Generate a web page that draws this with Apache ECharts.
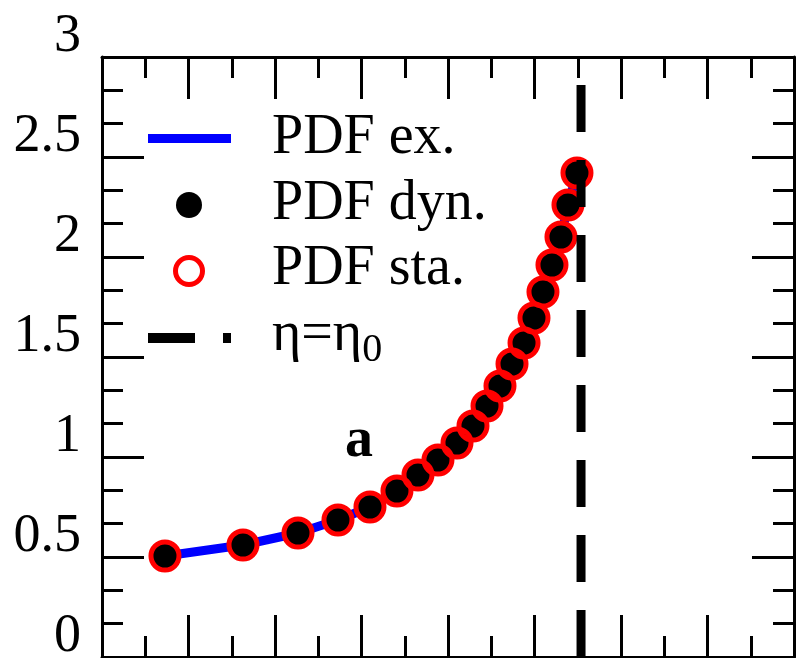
<!DOCTYPE html>
<html>
<head>
<meta charset="utf-8">
<script src="https://cdn.jsdelivr.net/npm/echarts@6/dist/echarts.min.js"></script>
<style>
html,body{margin:0;padding:0;background:#fff;}
#chart{width:797px;height:658px;}
</style>
</head>
<body>
<div id="chart"></div>
<script>
// ---- data ----
const etaValues   = [0.728, 1.630, 2.266, 2.728, 3.098, 3.410, 3.653, 3.884, 4.104, 4.289, 4.451, 4.601, 4.740, 4.879, 4.994, 5.098, 5.202, 5.306, 5.387, 5.491];
const pdfExact    = [0.505, 0.560, 0.620, 0.685, 0.750, 0.830, 0.910, 0.985, 1.070, 1.155, 1.255, 1.355, 1.465, 1.570, 1.695, 1.825, 1.960, 2.100, 2.260, 2.420];
const pdfDynamic  = [0.505, 0.560, 0.620, 0.685, 0.750, 0.830, 0.910, 0.985, 1.070, 1.155, 1.255, 1.355, 1.465, 1.570, 1.695, 1.825, 1.960, 2.100, 2.260, 2.420];
const pdfStatic   = [0.505, 0.560, 0.620, 0.685, 0.750, 0.830, 0.910, 0.985, 1.070, 1.155, 1.255, 1.355, 1.465, 1.570, 1.695, 1.825, 1.960, 2.100, 2.260, 2.420];
const eta0 = 5.538;
const yTickLabels = ['0', '0.5', '1', '1.5', '2', '2.5', '3'];
const seriesNames = ['PDF ex.', 'PDF dyn.', 'PDF sta.', 'η=η0'];

const pairs = (xs, ys) => xs.map((x, i) => [x, ys[i]]);
const serif = "'Liberation Serif', 'Times New Roman', serif";

const chart = echarts.init(document.getElementById('chart'), null, {renderer: 'canvas'});

const axisLineStyle = {show: true, onZero: false, lineStyle: {color: '#000', width: 3}};
const tickStyle = {lineStyle: {color: '#000', width: 3}};

const option = {
  backgroundColor: '#fff',
  animation: false,
  grid: {left: 102, right: 3, top: 57, bottom: 1, containLabel: false, outerBoundsMode: 'none'},
  xAxis: [
    {type: 'value', position: 'bottom', min: 0, max: 8, interval: 1,
     axisLine: axisLineStyle, splitLine: {show: false},
     axisTick: Object.assign({show: true, inside: true, length: 42}, tickStyle),
     minorTick: Object.assign({show: true, splitNumber: 2, length: 21}, tickStyle),
     axisLabel: {show: false}},
    {type: 'value', position: 'top', min: 0, max: 8, interval: 1,
     axisLine: axisLineStyle, splitLine: {show: false},
     axisTick: Object.assign({show: true, inside: true, length: 42}, tickStyle),
     minorTick: Object.assign({show: true, splitNumber: 2, length: 21}, tickStyle),
     axisLabel: {show: false}}
  ],
  yAxis: [
    {type: 'value', position: 'left', min: 0, max: 3, interval: 0.5,
     axisLine: axisLineStyle, splitLine: {show: false},
     axisTick: Object.assign({show: true, inside: true, length: 42}, tickStyle),
     minorTick: Object.assign({show: true, splitNumber: 3, length: 21}, tickStyle),
     axisLabel: {show: true, margin: 21, color: '#000', fontFamily: serif, fontSize: 54,
       verticalAlign: 'bottom', lineHeight: 40,
       formatter: (v) => yTickLabels[Math.round(v / 0.5)]}},
    {type: 'value', position: 'right', min: 0, max: 3, interval: 0.5,
     axisLine: axisLineStyle, splitLine: {show: false},
     axisTick: Object.assign({show: true, inside: true, length: 42}, tickStyle),
     minorTick: Object.assign({show: true, splitNumber: 3, length: 21}, tickStyle),
     axisLabel: {show: false}}
  ],
  series: [
    {name: seriesNames[0], type: 'line', data: pairs(etaValues, pdfExact),
     showSymbol: false, symbol: 'none', lineStyle: {color: '#0000ff', width: 9}, z: 2},
    {name: seriesNames[1], type: 'scatter', data: pairs(etaValues, pdfDynamic),
     symbol: 'circle', symbolSize: 26, itemStyle: {color: '#000', opacity: 1}, z: 3},
    {name: seriesNames[2], type: 'scatter', data: pairs(etaValues, pdfStatic),
     symbol: 'circle', symbolSize: 28,
     itemStyle: {color: 'rgba(0,0,0,0)', borderColor: '#ff0000', borderWidth: 5, opacity: 1}, z: 4},
    {name: seriesNames[3], type: 'line', data: [[eta0, 0], [eta0, 3]],
     showSymbol: false, symbol: 'none',
     lineStyle: {color: '#000', width: 9, type: [47, 28], cap: 'butt'}, z: 5}
  ],
  graphic: [
    {type: 'rect', shape: {x: 148, y: 134, width: 83, height: 9}, style: {fill: '#0000ff'}},
    {type: 'circle', shape: {cx: 189, cy: 205, r: 13}, style: {fill: '#000'}},
    {type: 'circle', shape: {cx: 189, cy: 271, r: 13.5}, style: {fill: 'none', stroke: '#ff0000', lineWidth: 5}},
    {type: 'rect', shape: {x: 148, y: 333, width: 47, height: 10}, style: {fill: '#000'}},
    {type: 'rect', shape: {x: 223, y: 333, width: 8, height: 10}, style: {fill: '#000'}},
    {type: 'text', x: 272, y: 138, style: {text: seriesNames[0], font: '56px ' + serif, fill: '#000', verticalAlign: 'middle'}},
    {type: 'text', x: 272, y: 204, style: {text: seriesNames[1], font: '56px ' + serif, fill: '#000', verticalAlign: 'middle'}},
    {type: 'text', x: 272, y: 269, style: {text: seriesNames[2], font: '56px ' + serif, fill: '#000', verticalAlign: 'middle'}},
    {type: 'text', x: 272, y: 335, style: {text: '{n|η=η}{s|0}', fill: '#000', verticalAlign: 'middle',
      rich: {n: {fontFamily: serif, fontSize: 56, color: '#000'},
             s: {fontFamily: serif, fontSize: 40, color: '#000', padding: [30, 0, 0, 0]}}}},
    {type: 'text', x: 359, y: 442, style: {text: 'a', font: 'bold 56px ' + serif, fill: '#000', align: 'center', verticalAlign: 'middle'}}
  ]
};
chart.setOption(option);
</script>
</body>
</html>
